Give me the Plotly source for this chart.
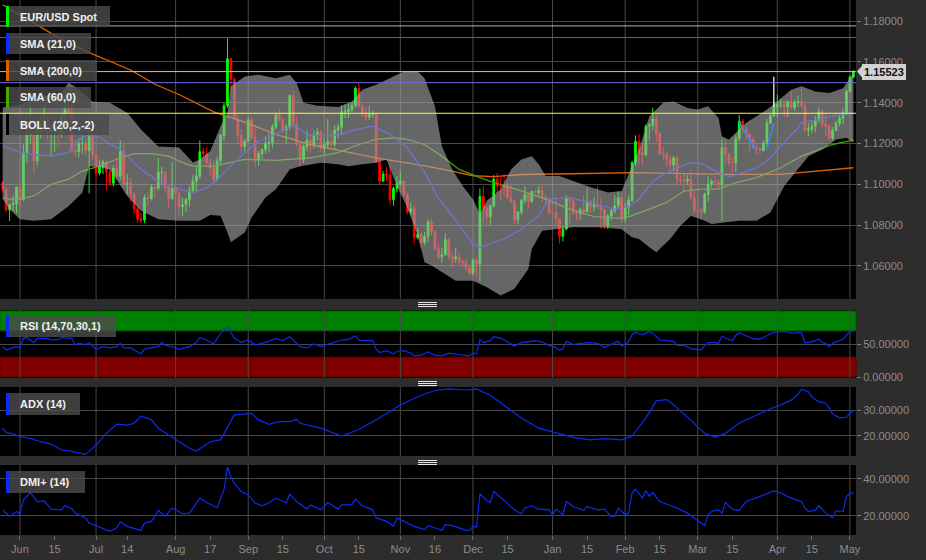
import pandas as pd
import plotly.graph_objects as go
from plotly.subplots import make_subplots

W, H = 926, 560

# ---------------- DATA ----------------
trading_days = pd.bdate_range("2015-05-25", "2016-05-03")

first_open = 1.1010
closes = [
    1.0975, 1.0875, 1.0900, 1.0905, 1.0985,   # May 25
    1.0925, 1.1150, 1.1240, 1.1245, 1.1115,   # Jun 1
    1.1290, 1.1290, 1.1320, 1.1255, 1.1265,   # Jun 8
    1.1285, 1.1245, 1.1335, 1.1365, 1.1350,   # Jun 15
    1.1165, 1.1160, 1.1200, 1.1200, 1.1165,   # Jun 22
    1.1235, 1.1145, 1.1055, 1.1085, 1.1110,   # Jun 29
    1.1060, 1.1005, 1.1080, 1.1040, 1.1160,   # Jul 6
    1.1000, 1.1005, 1.0950, 1.0880, 1.0830,   # Jul 13
    1.0825, 1.0935, 1.0930, 1.0985, 1.0980,   # Jul 20
    1.1060, 1.1060, 1.0985, 1.0930, 1.0980,   # Jul 27
    1.0955, 1.0890, 1.0900, 1.0925, 1.0970,   # Aug 3
    1.1015, 1.1040, 1.1160, 1.1150, 1.1105,   # Aug 10
    1.1080, 1.1025, 1.1115, 1.1240, 1.1385,   # Aug 17
    1.1615, 1.1515, 1.1320, 1.1240, 1.1185,   # Aug 24
    1.1210, 1.1315, 1.1230, 1.1120, 1.1150,   # Aug 31
    1.1170, 1.1200, 1.1205, 1.1280, 1.1340,   # Sep 7
    1.1315, 1.1265, 1.1280, 1.1435, 1.1295,   # Sep 14
    1.1195, 1.1120, 1.1185, 1.1215, 1.1195,   # Sep 21
    1.1245, 1.1255, 1.1175, 1.1195, 1.1210,   # Sep 28
    1.1195, 1.1265, 1.1280, 1.1355, 1.1355,   # Oct 5
    1.1365, 1.1385, 1.1470, 1.1380, 1.1350,   # Oct 12
    1.1330, 1.1345, 1.1345, 1.1110, 1.1015,   # Oct 19
    1.1050, 1.1045, 1.0925, 1.0980, 1.1005,   # Oct 26
    1.1015, 1.0950, 1.0865, 1.0880, 1.0740,   # Nov 2
    1.0755, 1.0715, 1.0745, 1.0815, 1.0770,   # Nov 9
    1.0685, 1.0645, 1.0655, 1.0730, 1.0645,   # Nov 16
    1.0635, 1.0645, 1.0620, 1.0615, 1.0590,   # Nov 23
    1.0565, 1.0630, 1.0610, 1.0940, 1.0880,   # Nov 30
    1.0840, 1.0895, 1.1025, 1.0990, 1.0990,   # Dec 7
    1.0990, 1.0935, 1.0915, 1.0825, 1.0865,   # Dec 14
    1.0920, 1.0950, 1.0915, 1.0965, 1.0960,   # Dec 21
    1.0970, 1.0935, 1.0925, 1.0860, 1.0860,   # Dec 28
    1.0830, 1.0745, 1.0780, 1.0930, 1.0920,   # Jan 4
    1.0860, 1.0855, 1.0875, 1.0865, 1.0915,   # Jan 11
    1.0890, 1.0900, 1.0890, 1.0875, 1.0795,   # Jan 18
    1.0845, 1.0870, 1.0895, 1.0935, 1.0830,   # Jan 25
    1.0885, 1.0920, 1.1105, 1.1210, 1.1155,   # Feb 1
    1.1145, 1.1285, 1.1290, 1.1320, 1.1250,   # Feb 8
    1.1150, 1.1145, 1.1125, 1.1095, 1.1130,   # Feb 15
    1.1025, 1.1020, 1.1015, 1.1025, 1.0935,   # Feb 22
    1.0870, 1.0870, 1.0865, 1.0950, 1.1000,   # Feb 29
    1.1015, 1.1010, 1.0995, 1.1180, 1.1150,   # Mar 7
    1.1105, 1.1105, 1.1225, 1.1310, 1.1270,   # Mar 14
    1.1245, 1.1220, 1.1180, 1.1175, 1.1165,   # Mar 21
    1.1200, 1.1300, 1.1335, 1.1380, 1.1390,   # Mar 28
    1.1390, 1.1380, 1.1405, 1.1375, 1.1400,   # Apr 4
    1.1405, 1.1385, 1.1265, 1.1270, 1.1285,   # Apr 11
    1.1315, 1.1355, 1.1295, 1.1285, 1.1225,   # Apr 18
    1.1265, 1.1300, 1.1325, 1.1350, 1.1455,   # Apr 25
    1.1525, 1.15523,                          # May 2
]
highs = [
    1.1015, 1.0985, 1.0905, 1.0945, 1.0990,
    1.0990, 1.1195, 1.1290, 1.1380, 1.1270,
    1.1305, 1.1330, 1.1385, 1.1345, 1.1290,
    1.1305, 1.1295, 1.1345, 1.1435, 1.1405,
    1.1410, 1.1220, 1.1225, 1.1240, 1.1225,
    1.1280, 1.1250, 1.1150, 1.1120, 1.1120,
    1.1110, 1.1085, 1.1095, 1.1125, 1.1215,
    1.1200, 1.1050, 1.1030, 1.0960, 1.0895,
    1.0860, 1.0950, 1.0960, 1.1000, 1.0995,
    1.1130, 1.1085, 1.1065, 1.0995, 1.1110,
    1.0990, 1.0965, 1.0935, 1.0935, 1.0990,
    1.1045, 1.1090, 1.1215, 1.1180, 1.1185,
    1.1125, 1.1120, 1.1135, 1.1245, 1.1400,
    1.1715, 1.1620, 1.1525, 1.1340, 1.1270,
    1.1225, 1.1330, 1.1330, 1.1280, 1.1165,
    1.1175, 1.1235, 1.1250, 1.1295, 1.1350,
    1.1370, 1.1330, 1.1295, 1.1440, 1.1460,
    1.1330, 1.1200, 1.1195, 1.1265, 1.1245,
    1.1265, 1.1275, 1.1270, 1.1225, 1.1320,
    1.1265, 1.1290, 1.1295, 1.1385, 1.1390,
    1.1395, 1.1400, 1.1480, 1.1495, 1.1390,
    1.1380, 1.1385, 1.1360, 1.1350, 1.1125,
    1.1065, 1.1085, 1.1095, 1.0990, 1.1040,
    1.1065, 1.1020, 1.0960, 1.0910, 1.0900,
    1.0785, 1.0765, 1.0765, 1.0830, 1.0830,
    1.0770, 1.0705, 1.0690, 1.0760, 1.0735,
    1.0675, 1.0690, 1.0665, 1.0630, 1.0635,
    1.0600, 1.0635, 1.0640, 1.0980, 1.0990,
    1.0895, 1.0900, 1.1045, 1.1055, 1.1030,
    1.1050, 1.1010, 1.1000, 1.0925, 1.0870,
    1.0930, 1.0990, 1.0955, 1.0970, 1.0970,
    1.0990, 1.0995, 1.0945, 1.0935, 1.0870,
    1.0945, 1.0835, 1.0795, 1.0945, 1.0935,
    1.0925, 1.0875, 1.0885, 1.0945, 1.0985,
    1.0925, 1.0935, 1.0990, 1.0935, 1.0880,
    1.0855, 1.0880, 1.0945, 1.0965, 1.0960,
    1.0910, 1.0945, 1.1115, 1.1240, 1.1245,
    1.1200, 1.1295, 1.1300, 1.1375, 1.1340,
    1.1255, 1.1185, 1.1165, 1.1140, 1.1140,
    1.1140, 1.1045, 1.1050, 1.1045, 1.1070,
    1.0965, 1.0900, 1.0885, 1.0960, 1.1040,
    1.1025, 1.1040, 1.1025, 1.1220, 1.1215,
    1.1150, 1.1135, 1.1240, 1.1340, 1.1320,
    1.1285, 1.1255, 1.1230, 1.1195, 1.1185,
    1.1215, 1.1320, 1.1345, 1.1410, 1.1440,
    1.1420, 1.1410, 1.1410, 1.1455, 1.1415,
    1.1435, 1.1465, 1.1395, 1.1300, 1.1315,
    1.1335, 1.1375, 1.1365, 1.1345, 1.1295,
    1.1280, 1.1310, 1.1335, 1.1370, 1.1465,
    1.1535, 1.1560,
]
lows = [
    1.0960, 1.0865, 1.0820, 1.0870, 1.0860,
    1.0890, 1.0920, 1.1105, 1.1200, 1.1050,
    1.1090, 1.1225, 1.1255, 1.1215, 1.1135,
    1.1160, 1.1185, 1.1230, 1.1300, 1.1315,
    1.1150, 1.1135, 1.1130, 1.1150, 1.1140,
    1.0955, 1.1120, 1.1035, 1.1045, 1.1050,
    1.0970, 1.0990, 1.0990, 1.1030, 1.1020,
    1.0990, 1.0950, 1.0915, 1.0855, 1.0810,
    1.0810, 1.0810, 1.0895, 1.0920, 1.0935,
    1.0970, 1.1000, 1.0960, 1.0885, 1.0925,
    1.0925, 1.0850, 1.0845, 1.0865, 1.0890,
    1.0955, 1.0960, 1.1025, 1.1110, 1.1095,
    1.1045, 1.1015, 1.1015, 1.1100, 1.1215,
    1.1375, 1.1450, 1.1320, 1.1200, 1.1155,
    1.1160, 1.1210, 1.1215, 1.1085, 1.1090,
    1.1125, 1.1150, 1.1155, 1.1180, 1.1270,
    1.1310, 1.1250, 1.1200, 1.1265, 1.1275,
    1.1185, 1.1085, 1.1105, 1.1160, 1.1160,
    1.1175, 1.1215, 1.1155, 1.1150, 1.1180,
    1.1185, 1.1170, 1.1225, 1.1245, 1.1325,
    1.1325, 1.1355, 1.1375, 1.1375, 1.1330,
    1.1315, 1.1315, 1.1325, 1.1105, 1.0995,
    1.1015, 1.1015, 1.0900, 1.0895, 1.0960,
    1.0990, 1.0940, 1.0850, 1.0850, 1.0705,
    1.0730, 1.0690, 1.0700, 1.0715, 1.0750,
    1.0675, 1.0630, 1.0615, 1.0650, 1.0630,
    1.0595, 1.0615, 1.0605, 1.0595, 1.0575,
    1.0555, 1.0555, 1.0545, 1.0525, 1.0800,
    1.0800, 1.0800, 1.0885, 1.0955, 1.0925,
    1.0945, 1.0930, 1.0905, 1.0805, 1.0805,
    1.0850, 1.0905, 1.0880, 1.0910, 1.0955,
    1.0945, 1.0910, 1.0905, 1.0850, 1.0850,
    1.0800, 1.0710, 1.0720, 1.0775, 1.0805,
    1.0850, 1.0820, 1.0825, 1.0850, 1.0860,
    1.0860, 1.0865, 1.0880, 1.0780, 1.0780,
    1.0780, 1.0825, 1.0855, 1.0880, 1.0810,
    1.0815, 1.0850, 1.0915, 1.1090, 1.1100,
    1.1090, 1.1135, 1.1215, 1.1265, 1.1210,
    1.1140, 1.1120, 1.1090, 1.1065, 1.1065,
    1.1000, 1.0995, 1.0960, 1.0995, 1.0920,
    1.0860, 1.0840, 1.0825, 1.0855, 1.0915,
    1.0985, 1.0990, 1.0980, 1.0820, 1.1095,
    1.1085, 1.1060, 1.1060, 1.1210, 1.1250,
    1.1220, 1.1160, 1.1175, 1.1145, 1.1150,
    1.1160, 1.1185, 1.1295, 1.1330, 1.1330,
    1.1375, 1.1330, 1.1330, 1.1365, 1.1360,
    1.1380, 1.1370, 1.1255, 1.1235, 1.1250,
    1.1255, 1.1300, 1.1280, 1.1235, 1.1215,
    1.1215, 1.1260, 1.1285, 1.1295, 1.1340,
    1.1450, 1.1520,
]
opens = [first_open] + closes[:-1]

# indicator readings: trading-day number -> value
sma200_day = [0, 3, 9, 17, 25, 37, 44, 51, 61, 70, 79, 89, 99, 108, 122, 130, 136, 142,
              150, 160, 169, 182, 200, 210, 225, 235, 246]
sma200_val = [1.1880, 1.1850, 1.1790, 1.1710, 1.1645, 1.1560, 1.1490, 1.1440, 1.1355,
              1.1305, 1.1245, 1.1195, 1.1160, 1.1130, 1.1090, 1.1065, 1.1042, 1.1038,
              1.1048, 1.1049, 1.1053, 1.1057, 1.1050, 1.1049, 1.1049, 1.1063, 1.1081]

sma21_day = [0, 5, 9, 14, 19, 22, 25, 28, 34, 40, 45, 51, 55, 59, 61, 65, 70, 74, 79, 84,
             88, 94, 98, 102, 107, 112, 117, 122, 126, 130, 136, 138, 145, 150, 155, 158,
             164, 172, 177, 181, 184, 188, 193, 199, 202, 207, 210, 214, 218, 221, 225,
             230, 231, 236, 239, 244, 246]
sma21_val = [1.1187, 1.1156, 1.1146, 1.1138, 1.1156, 1.1220, 1.1244, 1.1229, 1.1170,
             1.1073, 1.1016, 1.0976, 1.0959, 1.0984, 1.1008, 1.1073, 1.1156, 1.1211,
             1.1244, 1.1293, 1.1244, 1.1236, 1.1244, 1.1268, 1.1285, 1.1244, 1.1179,
             1.1060, 1.0930, 1.0846, 1.0707, 1.0691, 1.0732, 1.0780, 1.0846, 1.0927,
             1.0935, 1.0902, 1.0878, 1.0890, 1.0927, 1.1016, 1.1065, 1.1106, 1.1102,
             1.1057, 1.1037, 1.1057, 1.1081, 1.1114, 1.1187, 1.1277, 1.1304, 1.1317,
             1.1330, 1.1346, 1.1352]

sma60_day = [0, 2, 5, 9, 14, 19, 23, 28, 34, 38, 43, 48, 52, 55, 61, 70, 79, 89, 97, 103,
             108, 113, 117, 122, 127, 132, 138, 142, 150, 157, 164, 171, 179, 182, 187,
             192, 197, 202, 207, 212, 218, 225, 231, 236, 240, 246]
sma60_val = [1.0935, 1.0927, 1.0927, 1.0943, 1.1000, 1.1024, 1.1065, 1.1089, 1.1130,
             1.1150, 1.1150, 1.1138, 1.1106, 1.1089, 1.1089, 1.1122, 1.1117, 1.1130,
             1.1155, 1.1195, 1.1220, 1.1228, 1.1220, 1.1195, 1.1138, 1.1073, 1.1033,
             1.1008, 1.0968, 1.0927, 1.0878, 1.0842, 1.0833, 1.0846, 1.0878, 1.0911,
             1.0967, 1.0976, 1.0976, 1.1008, 1.1033, 1.1081, 1.1138, 1.1171, 1.1195,
             1.1216]

boll_up_day = [0, 5, 11, 17, 19, 21, 26, 31, 36, 40, 45, 51, 55, 57, 60, 63, 65, 66, 70,
               74, 79, 83, 85, 87, 91, 97, 101, 104, 108, 112, 116, 120, 122, 125, 127,
               130, 133, 136, 138, 140, 144, 147, 150, 153, 155, 157, 161, 169, 175, 179,
               182, 184, 187, 191, 194, 198, 201, 204, 207, 208, 210, 212, 215, 218, 221,
               224, 228, 231, 235, 239, 243, 245, 246]
boll_up_val = [1.1376, 1.1390, 1.1429, 1.1449, 1.1498, 1.1478, 1.1405, 1.1400, 1.1351,
               1.1268, 1.1185, 1.1180, 1.1107, 1.1122, 1.1162, 1.1284, 1.1351, 1.1480,
               1.1528, 1.1537, 1.1520, 1.1537, 1.1496, 1.1399, 1.1385, 1.1379, 1.1406,
               1.1463, 1.1488, 1.1520, 1.1553, 1.1553, 1.1520, 1.1382, 1.1187, 1.1073,
               1.0992, 1.0927, 1.0854, 1.0919, 1.0976, 1.1073, 1.1122, 1.1138, 1.1098,
               1.1041, 1.1041, 1.0992, 1.0960, 1.0967, 1.1089, 1.1171, 1.1333, 1.1399,
               1.1406, 1.1374, 1.1366, 1.1382, 1.1325, 1.1236, 1.1220, 1.1252, 1.1301,
               1.1333, 1.1366, 1.1406, 1.1463, 1.1480, 1.1455, 1.1447, 1.1471, 1.1520,
               1.1546]

boll_lo_day = [0, 2, 5, 9, 14, 19, 23, 25, 28, 31, 36, 40, 45, 51, 57, 60, 63, 65, 66, 70,
               72, 76, 79, 83, 86, 92, 97, 100, 104, 108, 111, 114, 117, 120, 122, 124,
               131, 136, 140, 144, 148, 152, 153, 156, 159, 165, 173, 179, 182, 184, 187,
               189, 193, 196, 199, 202, 205, 209, 213, 218, 222, 226, 230, 233, 237, 241,
               244, 246]
boll_lo_val = [1.0927, 1.0878, 1.0829, 1.0821, 1.0829, 1.0893, 1.0959, 1.1089, 1.1085,
               1.1073, 1.0943, 1.0870, 1.0829, 1.0821, 1.0821, 1.0850, 1.0846, 1.0764,
               1.0716, 1.0764, 1.0838, 1.0935, 1.0976, 1.1073, 1.1089, 1.1106, 1.1098,
               1.1089, 1.1098, 1.1106, 1.1122, 1.0992, 1.0886, 1.0748, 1.0618, 1.0602,
               1.0528, 1.0528, 1.0496, 1.0455, 1.0488, 1.0585, 1.0683, 1.0772, 1.0780,
               1.0789, 1.0789, 1.0780, 1.0740, 1.0732, 1.0691, 1.0667, 1.0732, 1.0797,
               1.0845, 1.0829, 1.0805, 1.0813, 1.0821, 1.0821, 1.0862, 1.0992, 1.1073,
               1.1138, 1.1171, 1.1220, 1.1228, 1.1203]

rsi_day = [0, 1, 4, 5, 6, 7, 9, 10, 13, 14, 16, 17, 20, 21, 22, 24, 25, 27, 29, 31, 33, 34,
           35, 37, 40, 41, 43, 45, 46, 47, 49, 51, 54, 56, 57, 59, 61, 63, 65, 67, 69, 71,
           73, 76, 79, 81, 83, 85, 86, 88, 90, 92, 94, 96, 98, 100, 102, 103, 105, 107,
           108, 109, 111, 113, 114, 116, 118, 119, 121, 123, 125, 127, 129, 131, 133, 135,
           136, 137, 138, 139, 141, 142, 144, 146, 148, 150, 152, 154, 156, 158, 160, 161,
           162, 163, 165, 167, 170, 172, 174, 176, 178, 179, 181, 182, 183, 185, 187, 188,
           190, 192, 194, 195, 197, 199, 201, 202, 203, 204, 206, 207, 208, 209, 211, 212,
           213, 215, 217, 219, 221, 223, 225, 227, 228, 231, 232, 233, 235, 236, 237, 238,
           239, 240, 242, 243, 244, 245, 246]
rsi_val = [46, 41, 46, 44, 58.6, 60, 52, 58.6, 58.6, 56, 57, 59.6, 58.6, 48.5, 51, 49, 52,
           42, 46, 44, 46, 51, 44, 44, 35, 42, 44, 46, 52.5, 48.5, 45.5, 42, 46, 52.5, 60,
           56, 50, 66, 76, 58.6, 52.5, 56, 48.5, 52.5, 58.6, 55, 61, 51, 46, 44, 50, 46, 49,
           52, 56, 57, 62, 56, 55, 55, 42, 37, 40, 35, 39, 40, 36, 32, 33, 38, 33, 32, 36,
           34, 33, 32, 36, 35, 57, 52, 55, 61, 59, 53, 47, 52, 54, 55, 53, 48, 45, 40, 43,
           54, 49, 51, 52, 51, 45, 50, 54, 47, 53, 64, 68, 64, 69, 66, 56, 55, 54, 48, 48,
           43, 42, 41, 48, 52, 52, 51, 62, 59, 55, 63, 67, 62, 58, 57, 63, 68, 68.6, 68.6,
           66, 67.7, 52, 52, 55, 57.5, 52, 51, 46, 51, 55, 57.5, 63.6, 68.6, 70.5]

adx_day = [0, 1, 3, 5, 8, 11, 14, 17, 19, 22, 24, 27, 30, 33, 36, 38, 40, 43, 45, 48, 51,
           54, 56, 58, 60, 63, 65, 67, 69, 72, 74, 77, 80, 83, 85, 86, 92, 98, 103, 109,
           115, 121, 125, 129, 134, 137, 141, 145, 150, 155, 161, 165, 170, 174, 179, 182,
           186, 189, 192, 194, 199, 203, 206, 209, 213, 218, 222, 225, 228, 230, 231, 233,
           234, 236, 238, 239, 240, 242, 244, 246]
adx_val = [23, 21.3, 20.8, 19.7, 19.1, 17.8, 16.9, 14.6, 14.3, 13.6, 12.9, 16.5, 21, 24.6,
           24.2, 24.9, 27.7, 26.2, 23, 20.4, 17.8, 15.3, 14.2, 15.9, 17.8, 18.5, 23.6, 28.1,
           28.3, 28.7, 26.2, 24.5, 25.5, 25.5, 26.4, 24.9, 23, 20, 22.5, 27, 31.9, 35.7,
           37.5, 38.1, 37.7, 38.1, 35.7, 31.9, 26.9, 23, 21, 19.5, 18.5, 19, 18.5, 20, 27,
           33.5, 34, 32, 26, 21, 19.5, 21, 25, 28, 30.5, 31.9, 33.8, 36, 38, 37, 35, 33.2,
           32.6, 30.7, 28.5, 27, 27.2, 30]

dmi_day = [0, 2, 4, 5, 6, 8, 10, 12, 14, 17, 18, 20, 21, 24, 25, 28, 31, 33, 34, 36, 40,
           41, 43, 45, 47, 49, 52, 54, 57, 59, 62, 64, 65, 66, 67, 69, 71, 73, 75, 77, 79,
           82, 83, 85, 88, 89, 92, 94, 97, 98, 101, 102, 104, 107, 108, 111, 113, 114, 116,
           119, 122, 123, 126, 127, 128, 130, 132, 134, 135, 136, 137, 138, 140, 141, 142,
           144, 145, 148, 150, 151, 153, 155, 158, 159, 160, 162, 163, 165, 168, 169, 172,
           174, 176, 177, 178, 180, 181, 182, 183, 185, 186, 187, 188, 190, 195, 198, 200,
           202, 203, 204, 205, 207, 208, 209, 211, 213, 215, 219, 223, 225, 227, 229, 231,
           232, 233, 235, 236, 238, 240, 241, 243, 244, 245, 246]
dmi_val = [23.2, 19.6, 22.3, 21.1, 28.6, 32.6, 27.7, 28.1, 23.6, 23.2, 25.6, 23.8, 21.4,
           18.8, 16, 13.9, 11.5, 13.4, 16.6, 14.2, 12, 16, 16.9, 22.9, 19.6, 24.2, 21.1,
           21.4, 29.6, 27.2, 24.2, 34.1, 46.6, 41, 37.7, 33.1, 31.4, 26.9, 25.4, 26.9, 29.6,
           26.9, 31.7, 27.7, 23.6, 25.9, 23.2, 27.2, 23.6, 25.9, 25.9, 29, 25.4, 23.2, 18.8,
           16.9, 14.2, 18.8, 16.9, 14.2, 12.4, 14.6, 12.8, 12, 15.1, 14.6, 13.4, 12, 12,
           14.2, 13.8, 31.9, 28.3, 27.2, 33.1, 29.6, 28.3, 23.2, 21.1, 24.2, 25.4, 23.6,
           23.2, 20.5, 23.6, 20.5, 27.7, 25, 22.9, 25, 23.2, 23.6, 19.6, 19.6, 24.2, 20.5,
           21.4, 32.3, 34.4, 29.6, 33.7, 30.5, 32.6, 27.7, 24.2, 21.4, 18.8, 16, 14.6, 20.5,
           22.3, 23.2, 21.4, 27.2, 23.6, 22.9, 27.7, 30.5, 33.5, 32.5, 30.4, 29, 27.7, 24.2,
           22.3, 22.9, 25.4, 21.4, 18.8, 22.6, 22.3, 30.4, 32.2, 32.6]

# drawn objects on the price chart
level_prices = [1.1776, 1.1719, 1.1498, 1.1348]
trend_legs = [([213, 218], [1.1304, 1.1162]), ([221, 223], [1.1171, 1.1301])]
marker_day, marker_lo, marker_hi = 223, 1.1380, 1.1527

main_labels = ["EUR/USD Spot", "SMA (21,0)", "SMA (200,0)", "SMA (60,0)", "BOLL (20,2,-2)"]
panel_labels = ["RSI (14,70,30,1)", "ADX (14)", "DMI+ (14)"]
rsi_zones = [(70, 100), (0, 30)]

tick_dates = ["2015-06-01", "2015-06-15", "2015-07-01", "2015-07-14", "2015-08-03",
              "2015-08-17", "2015-09-01", "2015-09-15", "2015-10-01", "2015-10-15",
              "2015-11-02", "2015-11-16", "2015-12-01", "2015-12-15", "2016-01-01",
              "2016-01-15", "2016-02-01", "2016-02-15", "2016-03-01", "2016-03-15",
              "2016-04-01", "2016-04-15", "2016-05-02"]
tick_text = ["Jun", "15", "Jul", "14", "Aug", "17", "Sep", "15", "Oct", "15", "Nov", "16",
             "Dec", "15", "Jan", "15", "Feb", "15", "Mar", "15", "Apr", "15", "May"]
month_starts = tick_dates[0::2]

assert len(closes) == len(highs) == len(lows) == len(trading_days)

# ---------------- STYLE ----------------
GRID = "#484848"
BLUE = "#0a2cf0"
LBL = "#8c8c8c"
FONT = "Arial, Liberation Sans, sans-serif"


def days(idx):
    return [trading_days[i] for i in idx]


def py(p):
    return 1 - p / H


fig = make_subplots(rows=4, cols=1, shared_xaxes=True, vertical_spacing=0.02)

# price panel
fig.add_trace(go.Scatter(x=days(sma200_day), y=sma200_val, mode="lines",
                         line=dict(color="#e06000", width=1.3), hoverinfo="skip"), 1, 1)
fig.add_trace(go.Scatter(x=days(sma60_day), y=sma60_val, mode="lines",
                         line=dict(color="#3f9f00", width=1.3), hoverinfo="skip"), 1, 1)
fig.add_trace(go.Scatter(x=days(sma21_day), y=sma21_val, mode="lines",
                         line=dict(color="#1428ff", width=1.3), hoverinfo="skip"), 1, 1)
fig.add_trace(go.Candlestick(
    x=trading_days, open=opens, high=highs, low=lows, close=closes,
    increasing=dict(line=dict(color="#00ff00", width=1), fillcolor="#00ff00"),
    decreasing=dict(line=dict(color="#ff0000", width=1), fillcolor="#ff0000"),
    whiskerwidth=0, hoverinfo="skip"), 1, 1)
fig.add_trace(go.Scatter(
    x=days(boll_up_day) + days(boll_lo_day)[::-1],
    y=boll_up_val + boll_lo_val[::-1],
    mode="lines", fill="toself", fillcolor="rgba(170,170,170,0.6)",
    line=dict(width=0), hoverinfo="skip"), 1, 1)
for d_idx, vals in trend_legs:
    fig.add_trace(go.Scatter(x=days(d_idx), y=vals, mode="lines",
                             line=dict(color="#2a8cff", width=1.5), hoverinfo="skip"), 1, 1)
fig.add_trace(go.Scatter(x=days([marker_day, marker_day]), y=[marker_lo, marker_hi],
                         mode="lines", line=dict(color="#ffffff", width=1.2),
                         hoverinfo="skip"), 1, 1)

# indicator panels
fig.add_trace(go.Scatter(x=days(rsi_day), y=rsi_val, mode="lines",
                         line=dict(color=BLUE, width=1.2), hoverinfo="skip"), 2, 1)
fig.add_trace(go.Scatter(x=days(adx_day), y=adx_val, mode="lines",
                         line=dict(color=BLUE, width=1.2), hoverinfo="skip"), 3, 1)
fig.add_trace(go.Scatter(x=days(dmi_day), y=dmi_val, mode="lines",
                         line=dict(color=BLUE, width=1.2), hoverinfo="skip"), 4, 1)

# RSI zones
zone_style = [("#008000", "#005c00"), ("#800000", "#5a0000")]
for (z0, z1), (fc, lc) in zip(rsi_zones, zone_style):
    fig.add_shape(type="rect", xref="x2 domain", yref="y2", x0=0, x1=1, y0=z0, y1=z1,
                  fillcolor=fc, line=dict(color=lc, width=1), layer="below")

# month grid lines in every panel
for d in month_starts:
    for r in range(1, 5):
        sfx = "" if r == 1 else str(r)
        fig.add_shape(type="line", xref="x" + sfx, yref="y" + sfx + " domain",
                      x0=d, x1=d, y0=0, y1=1, line=dict(color=GRID, width=1), layer="below")

# horizontal level lines
level_colors = ["#b4b4b4", "#d21cd2", "#6b6be6", "#ffff22"]
for lv, c in zip(level_prices, level_colors):
    fig.add_shape(type="line", xref="x domain", yref="y", x0=0, x1=1, y0=lv, y1=lv,
                  line=dict(color=c, width=1), layer="above")
last = closes[-1]
fig.add_shape(type="line", xref="x domain", yref="y", x0=0, x1=1, y0=last, y1=last,
              line=dict(color="#c4c4c4", width=1), layer="above")
fig.add_shape(type="path", xref="paper", yref="y",
              path=f"M {857/W},{last} L {863/W},{last + 0.0034} L {863/W},{last - 0.0034} Z",
              fillcolor="#d2d2d2", line=dict(width=0))
fig.add_annotation(x=862 / W, y=last, xref="paper", yref="y", xanchor="left",
                   yanchor="middle", text=f"<b>{last:.5f}</b>", showarrow=False,
                   bgcolor="#d2d2d2", bordercolor="#d2d2d2", borderpad=1,
                   font=dict(size=11, color="#111111", family=FONT))

# legend boxes
main_boxes = [(110, 6, 27), (91, 33, 54), (97, 60, 81), (91, 87, 108), (109, 114, 135)]
main_strip = ["#00ee00", "#0a2cff", "#e06000", "#44aa00", "#000000"]
panel_boxes = [(116, 315, 337), (80, 393, 415), (85, 471, 493)]
labels = main_labels + panel_labels
boxes = main_boxes + panel_boxes
strips = main_strip + [BLUE] * 3
for lab, (x1, y0, y1), sc in zip(labels, boxes, strips):
    fig.add_shape(type="rect", xref="paper", yref="paper", x0=6 / W, x1=x1 / W,
                  y0=py(y1), y1=py(y0), fillcolor="rgba(74,74,74,0.82)",
                  line=dict(width=0), layer="above")
    fig.add_shape(type="rect", xref="paper", yref="paper", x0=6 / W, x1=9 / W,
                  y0=py(y1), y1=py(y0), fillcolor=sc, line=dict(width=0), layer="above")
    fig.add_annotation(x=18 / W, y=py((y0 + y1) / 2), xref="paper", yref="paper",
                       xanchor="left", yanchor="middle", text=f"<b>{lab}</b>",
                       showarrow=False, font=dict(size=11, color="#f0f0f0", family=FONT))

# separator handles
for yc in (302, 381, 460):
    for dy in (0, 2, 4):
        fig.add_shape(type="line", xref="paper", yref="paper", x0=418 / W, x1=437 / W,
                      y0=py(yc + dy + 0.5), y1=py(yc + dy + 0.5),
                      line=dict(color="#e6e6e6", width=1))

# ---------------- LAYOUT ----------------
fig.update_layout(width=W, height=H,
                  margin=dict(l=0, r=0, t=0, b=0, pad=0, autoexpand=False),
                  paper_bgcolor="#2d2d2d", plot_bgcolor="#000000", showlegend=False,
                  hovermode=False, font=dict(family=FONT, size=11, color=LBL))

x_range = ["2015-05-22 05:17", "2016-05-03 18:14"]
fig.update_xaxes(domain=[0, 856 / W], range=x_range, rangebreaks=[dict(bounds=["sat", "mon"])],
                 showgrid=False, zeroline=False, showline=False, rangeslider_visible=False,
                 fixedrange=True, tickmode="array", tickvals=tick_dates, ticktext=tick_text,
                 automargin=False)
for r in (1, 2, 3):
    fig.update_xaxes(showticklabels=False, ticks="", row=r, col=1)
fig.update_xaxes(showticklabels=True, ticks="outside", ticklen=4, tickcolor="#6a6a6a",
                 tickfont=dict(size=11, color=LBL), row=4, col=1)

fig.update_yaxes(side="right", showgrid=True, gridcolor=GRID, gridwidth=1, zeroline=False,
                 showline=False, ticks="outside", ticklen=4, tickcolor="#7a7a7a",
                 tickfont=dict(size=11, color=LBL), tickformat=".5f", tickmode="array",
                 fixedrange=True, automargin=False)
fig.update_yaxes(domain=[py(299), py(0)], range=[1.0438, 1.1903],
                 tickvals=[1.06, 1.08, 1.10, 1.12, 1.14, 1.16, 1.18], row=1, col=1)
fig.update_yaxes(domain=[py(378), py(310)], range=[-1.5, 101.5], tickvals=[0, 50], row=2, col=1)
fig.update_yaxes(domain=[py(456), py(387)], range=[12.3, 38.85], tickvals=[20, 30], row=3, col=1)
fig.update_yaxes(domain=[py(535), py(465)], range=[9.5, 47.6], tickvals=[20, 40], row=4, col=1)

fig.write_html("out.html", config={"displayModeBar": False},
               post_script="document.body.style.margin='0px';document.body.style.overflow='hidden';")
